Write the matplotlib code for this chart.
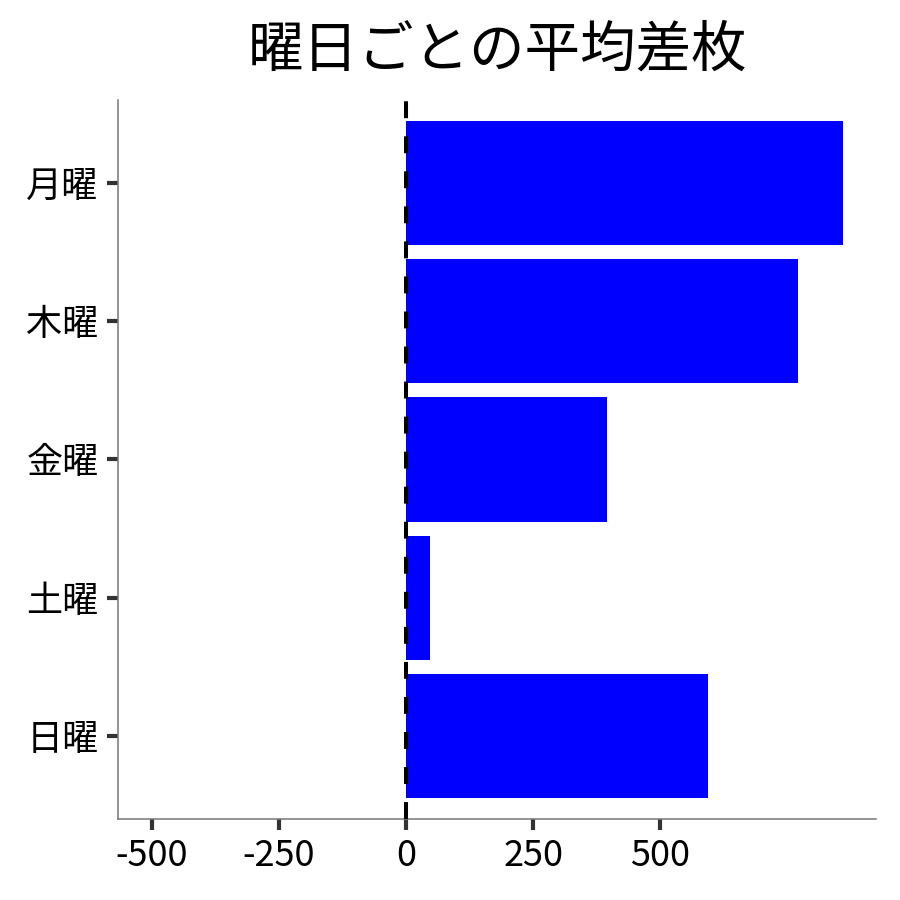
import matplotlib
matplotlib.use("Agg")
import matplotlib.pyplot as plt

plt.rcParams['font.family'] = ['Noto Sans CJK JP', 'DejaVu Sans']

# weekday averages (difference in medals)
days = ["日曜", "土曜", "金曜", "木曜", "月曜"]
avg_diff = [594, 47, 396, 772, 860]
x_ticks = [-500, -250, 0, 250, 500]

fig = plt.figure(figsize=(9, 9), dpi=100)
ax = fig.add_axes([0.1311, 0.09, 0.8422, 0.7989])

ax.barh(range(len(days)), avg_diff, height=0.9, color="#0000ff", zorder=2)
ax.axvline(0, color="black", linewidth=2.9, linestyle=(0, (4.2, 4.5)), zorder=3)

ax.set_xlim(-567, 925)
ax.set_ylim(-0.6, 4.6)
ax.set_yticks(range(len(days)))
ax.set_yticklabels(days)
ax.set_xticks(x_ticks)
ax.set_xticklabels([str(v) for v in x_ticks])
ax.tick_params(axis="both", labelsize=26, length=8, width=3, color="#333333", pad=6)

for side in ["top", "right"]:
    ax.spines[side].set_visible(False)
for side in ["left", "bottom"]:
    ax.spines[side].set_color("#777777")
    ax.spines[side].set_linewidth(1.1)

ax.set_title("曜日ごとの平均差枚", fontsize=40, pad=24)

fig.savefig("out.png", dpi=100)
